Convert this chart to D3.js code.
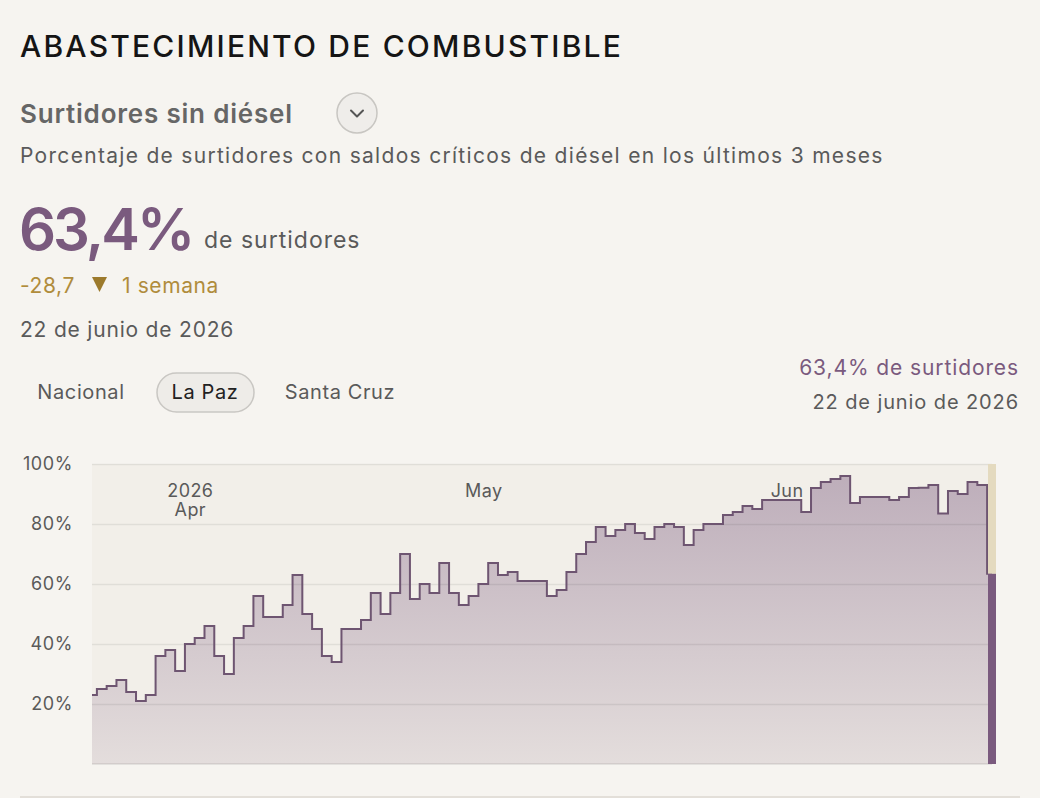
<!DOCTYPE html>
<html>
<head>
<meta charset="utf-8">
<script src="https://cdn.jsdelivr.net/npm/d3@7"></script>
<style>
  body { margin: 0; background: #f6f4f0; font-family: Inter, "Noto Sans", sans-serif; }
  svg { display: block; }
</style>
</head>
<body>
<div id="chart"></div>
<script>
// Data: % of stations with critical diesel stock, La Paz, daily from 22 Mar 2026
var startDate = "2026-03-22";
var values = [
  23, 25, 26, 28, 24, 21, 23, 36, 38, 31,
  40, 42, 46, 36, 30, 42, 46, 56, 49, 49,
  53, 63, 50, 45, 36, 34, 45, 45, 48, 57,
  50, 57, 70, 55, 60, 57, 67, 57, 53, 56,
  60, 67, 63, 64, 61, 61, 61, 56, 58, 64,
  70, 74, 79, 76, 78, 80, 77, 75, 79, 80,
  79, 73, 78, 80, 80, 83, 84, 86, 85, 88,
  88, 88, 88, 84, 92, 94, 95, 96, 87, 89,
  89, 89, 88, 89, 92, 92.1, 93, 83.5, 91, 90,
  94, 93, 63.4
];
var yTicks = [20, 40, 60, 80, 100];
var tabs = ["Nacional", "La Paz", "Santa Cruz"];
var monthTicks = ["2026-04-01", "2026-05-01", "2026-06-01"];

var parse = d3.utcParse("%Y-%m-%d");
var t0 = parse(startDate);
var data = values.map(function(v, i) {
  return { date: d3.utcDay.offset(t0, i), value: v };
});
var last = data[data.length - 1];

var svgWidth = 1040, svgHeight = 798;
var margin = { top: 464, right: 48, bottom: 34, left: 92 };
var width = svgWidth - margin.left - margin.right;
var height = svgHeight - margin.top - margin.bottom;

var purple = "#7a5a7e";
var gold = "#b08c3c";
var grey = "#5a5a5a";

var svg = d3.select("#chart").append("svg")
  .attr("width", svgWidth)
  .attr("height", svgHeight);

// small helper for the header texts
function label(x, y, size, color, txt, spacing) {
  return svg.append("text")
    .attr("x", x).attr("y", y)
    .attr("font-size", size).attr("fill", color)
    .attr("letter-spacing", spacing || 0)
    .text(txt);
}

// ---- header texts
label(20, 57, 30, "#151515", "ABASTECIMIENTO DE COMBUSTIBLE", 2.2)
  .attr("font-weight", 500);

label(20, 123, 26, "#666", "Surtidores sin diésel", 0.8)
  .attr("font-weight", 600);

var btn = svg.append("g").attr("transform", "translate(357,113)");
btn.append("circle").attr("r", 20)
  .attr("fill", "#efedea").attr("stroke", "#c8c6c2").attr("stroke-width", 1.5);
btn.append("path").attr("d", "M-6,-2.5 L0,3.5 L6,-2.5")
  .attr("fill", "none").attr("stroke", "#555").attr("stroke-width", 2)
  .attr("stroke-linecap", "round").attr("stroke-linejoin", "round");

label(20, 163, 21, grey, "Porcentaje de surtidores con saldos críticos de diésel en los últimos 3 meses", 1.3);

label(19, 250, 58, purple, "63,4%", -3).attr("font-weight", 600);
label(204, 248, 23, grey, "de surtidores", 1);

label(20, 293, 21, gold, "-28,7", 0.6);
svg.append("path")
  .attr("d", "M92,277 L107,277 L99.5,292 Z")
  .attr("fill", "#9c7a2c");
label(122, 293, 21, gold, "1 semana", 0.6);

label(20, 337, 21, grey, "22 de junio de 2026", 0.8);

// ---- tabs
var tabX = [81, 205, 340];
svg.append("rect")
  .attr("x", 157).attr("y", 373).attr("width", 97).attr("height", 39).attr("rx", 19.5)
  .attr("fill", "#eeece8").attr("stroke", "#c9c7c3").attr("stroke-width", 1.5);
svg.selectAll(".tab").data(tabs).enter().append("text")
  .attr("class", "tab")
  .attr("x", function(d, i) { return tabX[i]; })
  .attr("y", 399)
  .attr("text-anchor", "middle")
  .attr("font-size", 20)
  .attr("letter-spacing", 0.6)
  .attr("fill", function(d) { return d === "La Paz" ? "#222" : grey; })
  .text(function(d) { return d; });

label(1019, 375, 21, purple, "63,4% de surtidores", 0.9).attr("text-anchor", "end");
label(1019, 409, 20, grey, "22 de junio de 2026", 0.9).attr("text-anchor", "end");

// ---- chart
var g = svg.append("g")
  .attr("transform", "translate(" + margin.left + "," + margin.top + ")");

var x = d3.scaleUtc()
  .domain([data[0].date, last.date])
  .range([0, width]);
var y = d3.scaleLinear()
  .domain([0, 100])
  .range([height, 0]);

var defs = svg.append("defs");
var grad = defs.append("linearGradient")
  .attr("id", "fillGrad")
  .attr("gradientUnits", "userSpaceOnUse")
  .attr("x1", 0).attr("y1", 0).attr("x2", 0).attr("y2", height);
grad.append("stop").attr("offset", 0).attr("stop-color", purple).attr("stop-opacity", 0.45);
grad.append("stop").attr("offset", 1).attr("stop-color", purple).attr("stop-opacity", 0.12);

g.append("rect")
  .attr("x", 0).attr("y", 0).attr("width", width).attr("height", height)
  .attr("fill", "#f2efe9");

var area = d3.area()
  .curve(d3.curveStep)
  .x(function(d) { return x(d.date); })
  .y0(height)
  .y1(function(d) { return y(d.value); });
var line = d3.line()
  .curve(d3.curveStep)
  .x(function(d) { return x(d.date); })
  .y(function(d) { return y(d.value); });

g.append("path").datum(data)
  .attr("d", area)
  .attr("fill", "url(#fillGrad)");

// grid
var yAxis = d3.axisLeft(y).tickValues(yTicks)
  .tickSize(-width)
  .tickFormat(function(d) { return d + "%"; });
var yg = g.append("g").call(yAxis);
yg.select(".domain").remove();
yg.selectAll(".tick line").attr("stroke", "#000").attr("stroke-opacity", 0.07).attr("stroke-width", 1.5);
yg.selectAll(".tick text")
  .attr("x", -19)
  .attr("font-family", "Inter, 'Noto Sans', sans-serif")
  .attr("font-size", 18).attr("letter-spacing", 0.6).attr("fill", grey);

g.append("line")
  .attr("x1", 0).attr("x2", width).attr("y1", height).attr("y2", height)
  .attr("stroke", "#000").attr("stroke-opacity", 0.1).attr("stroke-width", 1.5);

g.append("path").datum(data)
  .attr("d", line)
  .attr("fill", "none")
  .attr("stroke", "#6e5571")
  .attr("stroke-width", 2);

// month labels
var months = monthTicks.map(parse);
var xAxis = d3.axisTop(x).tickValues(months).tickSize(0).tickFormat("");
var xg = g.append("g").call(xAxis);
xg.select(".domain").remove();
xg.selectAll(".tick").each(function(d, i) {
  var t = d3.select(this).append("text")
    .attr("text-anchor", "middle")
    .attr("font-family", "Inter, 'Noto Sans', sans-serif")
    .attr("font-size", 18).attr("letter-spacing", 0.4).attr("fill", grey);
  if (i === 0) {
    t.append("tspan").attr("x", 0).attr("y", 33).text(d3.utcFormat("%Y")(d));
    t.append("tspan").attr("x", 0).attr("y", 52).text(d3.utcFormat("%b")(d));
  } else {
    t.attr("y", 33).text(d3.utcFormat("%b")(d));
  }
});

// highlight of the last day
var bx = x(last.date) - 4;
g.append("rect")
  .attr("x", bx).attr("y", 0).attr("width", 8).attr("height", y(last.value))
  .attr("fill", "#e4dabf");
g.append("rect")
  .attr("x", bx).attr("y", y(last.value)).attr("width", 8).attr("height", height - y(last.value))
  .attr("fill", purple);

// bottom rule
svg.append("line")
  .attr("x1", 20).attr("x2", 1020).attr("y1", 797).attr("y2", 797)
  .attr("stroke", "#ddd9d2").attr("stroke-width", 1.5);
</script>
</body>
</html>
